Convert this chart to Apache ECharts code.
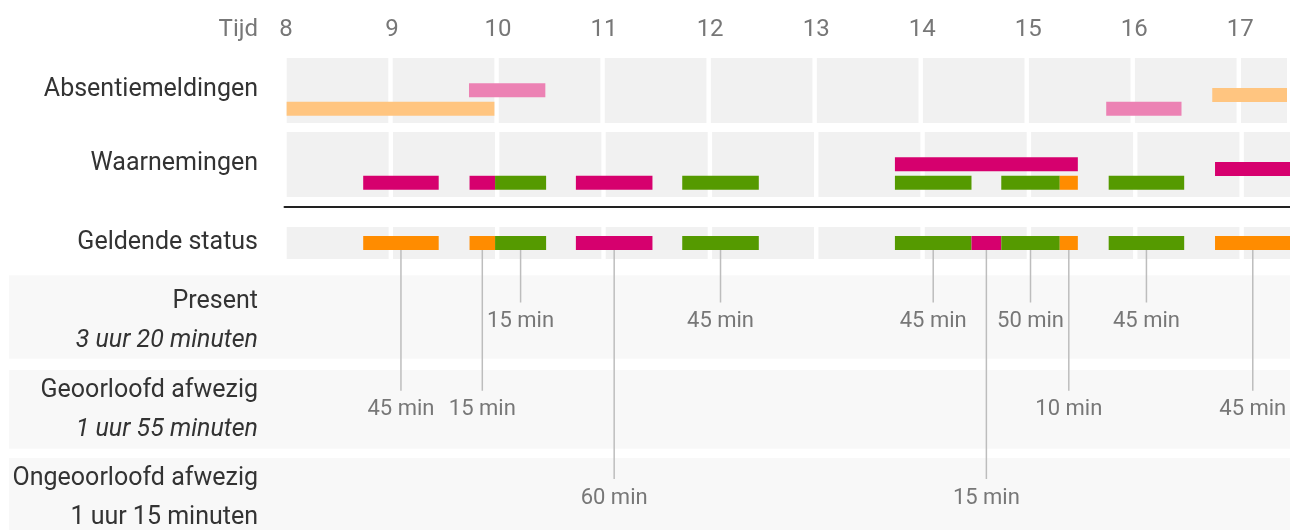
<!DOCTYPE html>
<html>
<head>
<meta charset="utf-8">
<script src="https://cdn.jsdelivr.net/npm/echarts@6/dist/echarts.min.js"></script>
<style>
  html, body { margin: 0; padding: 0; background: #fff; }
  #chart { width: 1290px; height: 530px; }
</style>
</head>
<body>
<div id="chart"></div>
<script>
// tick labels of the time axis (hours)
const hourTicks = [8, 9, 10, 11, 12, 13, 14, 15, 16, 17];

// summary rows
const statusNames = ["Present", "Geoorloofd afwezig", "Ongeoorloofd afwezig"];
const statusKeys = ["present", "geoorloofd", "ongeoorloofd"];
const statusTotals = ["3 uur 20 minuten", "1 uur 55 minuten", "1 uur 15 minuten"];

// [start hour, end hour, lane, kind]
const absentieMeldingen = [
  [8.02, 9.98, 0, "geoorloofd"],
  [9.74, 10.46, 1, "ongeoorloofd"],
  [15.75, 16.46, 0, "ongeoorloofd"],
  [16.75, 17.46, 0.75, "geoorloofd"]
];

const waarnemingen = [
  [8.74, 9.45, 0, "ongeoorloofd"],
  [9.74, 9.98, 0, "ongeoorloofd"],
  [9.98, 10.46, 0, "present"],
  [10.74, 11.46, 0, "ongeoorloofd"],
  [11.74, 12.46, 0, "present"],
  [13.74, 14.46, 0, "present"],
  [14.74, 15.29, 0, "present"],
  [15.29, 15.46, 0, "geoorloofd"],
  [15.75, 16.46, 0, "present"],
  [13.74, 15.46, 1, "ongeoorloofd"],
  [16.75, 17.46, 0.75, "ongeoorloofd"]
];

// [start hour, end hour, status, duration label]
const geldendeStatus = [
  [8.74, 9.45, "geoorloofd", "45 min"],
  [9.74, 9.98, "geoorloofd", "15 min"],
  [9.98, 10.46, "present", "15 min"],
  [10.74, 11.46, "ongeoorloofd", "60 min"],
  [11.74, 12.46, "present", "45 min"],
  [13.74, 14.46, "present", "45 min"],
  [14.46, 14.74, "ongeoorloofd", "15 min"],
  [14.74, 15.29, "present", "50 min"],
  [15.29, 15.46, "geoorloofd", "10 min"],
  [15.75, 16.46, "present", "45 min"],
  [16.75, 17.46, "geoorloofd", "45 min"]
];

const COLORS = { present: "#559a00", geoorloofd: "#ff8c00", ongeoorloofd: "#d6006e" };
const LIGHT = { geoorloofd: "#ffc580", ongeoorloofd: "#ec82b4" };

const FONT = "Roboto";
const PLOT_LEFT = 284.5;
const BAR_H = 14;
const STATUS_TOP = 227;
const STATUS_H = 32;
const LINE_TOP = STATUS_TOP + STATUS_H / 2 + BAR_H / 2;

const chart = echarts.init(document.getElementById("chart"));

function cellItem(params, api) {
  const cs = params.coordSys;
  const h = api.value(0);
  const a = api.coord([h, 0])[0] + 2.2;
  const b = api.coord([h + 1, 0])[0] - 2.2;
  const shape = echarts.graphic.clipRectByRect(
    { x: a, y: cs.y, width: b - a, height: cs.height },
    cs
  );
  return shape && { type: "rect", shape: shape, style: { fill: "#f1f1f1" } };
}

function barRenderer(rows, palette) {
  return function (params, api) {
    const p1 = api.coord([api.value(0), api.value(2)]);
    const p2 = api.coord([api.value(1), api.value(2)]);
    const shape = echarts.graphic.clipRectByRect(
      { x: p1[0], y: p1[1] - BAR_H / 2, width: p2[0] - p1[0], height: BAR_H },
      params.coordSys
    );
    const kind = rows[params.dataIndex][3];
    return shape && { type: "rect", shape: shape, style: { fill: palette[kind] } };
  };
}

function statusRenderer(params, api) {
  const p = api.coord([api.value(0), api.value(1)]);
  const s = geldendeStatus[params.dataIndex];
  return {
    type: "group",
    children: [
      {
        type: "line",
        shape: { x1: p[0], y1: LINE_TOP, x2: p[0], y2: p[1] - 19 },
        style: { stroke: "#bdbdbd", lineWidth: 1.5 }
      },
      {
        type: "text",
        x: p[0],
        y: p[1],
        style: {
          text: s[3],
          fill: "#777",
          fontSize: 22,
          fontFamily: FONT,
          align: "center",
          verticalAlign: "middle",
          textAlign: "center",
          textVerticalAlign: "middle"
        }
      }
    ]
  };
}

const hiddenX = {
  type: "value",
  min: 8,
  max: 17.455,
  interval: 1,
  axisLine: { show: false, onZero: false },
  axisTick: { show: false },
  axisLabel: { show: false },
  splitLine: { show: false }
};

const laneY = {
  type: "value",
  min: -0.77,
  max: 2.75,
  show: false,
  splitLine: { show: false }
};

const cellData = hourTicks.map(h => [h, 0]);

const labelStyle = (text, y, color, size) => ({
  type: "text",
  x: 258,
  y: y,
  style: {
    text: text,
    fill: color,
    fontSize: size,
    fontFamily: FONT,
    align: "right",
    verticalAlign: "middle",
    textAlign: "right",
    textVerticalAlign: "middle"
  }
});

const bandStyle = (y, h) => ({
  type: "rect",
  shape: { x: 9, y: y, width: 1281, height: h },
  style: { fill: "#f8f8f8" },
  z: -10
});

const rowFont = { fontSize: 25, fontFamily: FONT, color: "#333", lineHeight: 39, align: "right" };

chart.setOption({
  animation: false,
  backgroundColor: "#fff",
  graphic: [
    bandStyle(275.3, 83.4),
    bandStyle(370, 78.7),
    bandStyle(458, 80),
    labelStyle("Tijd", 30, "#777", 24),
    labelStyle("Absentiemeldingen", 90, "#333", 25),
    labelStyle("Waarnemingen", 164, "#333", 25),
    labelStyle("Geldende status", 243, "#333", 25)
  ],
  grid: [
    { left: PLOT_LEFT, right: 0, top: 58, height: 65 },
    { left: PLOT_LEFT, right: 0, top: 132, height: 65 },
    { left: PLOT_LEFT, right: 0, top: STATUS_TOP, height: STATUS_H },
    { left: PLOT_LEFT, right: 0, top: 321.5, height: 176.5 }
  ],
  xAxis: [
    Object.assign({}, hiddenX, {
      gridIndex: 0,
      position: "top",
      axisLabel: {
        show: true,
        fontSize: 24,
        fontFamily: FONT,
        color: "#777",
        margin: 28,
        verticalAlign: "middle",
        padding: [0, 0, 0, 3],
        formatter: v => (Number.isInteger(v) ? String(v) : "")
      }
    }),
    Object.assign({}, hiddenX, { gridIndex: 1 }),
    Object.assign({}, hiddenX, {
      gridIndex: 2,
      position: "top",
      offset: 20,
      axisLine: { show: true, onZero: false, lineStyle: { color: "#222", width: 2 } }
    }),
    Object.assign({}, hiddenX, { gridIndex: 3 })
  ],
  yAxis: [
    Object.assign({}, laneY, { gridIndex: 0 }),
    Object.assign({}, laneY, { gridIndex: 1 }),
    { type: "value", gridIndex: 2, min: -1, max: 1, show: false, splitLine: { show: false } },
    {
      type: "category",
      gridIndex: 3,
      inverse: true,
      boundaryGap: false,
      data: statusNames,
      axisLine: { show: false },
      axisTick: { show: false },
      splitLine: { show: false },
      axisLabel: {
        margin: 26.5,
        formatter: (value, index) =>
          "{name|" + value + "}\n{" + (index < 2 ? "subI" : "sub") + "|" + statusTotals[index] + "}",
        rich: {
          name: rowFont,
          subI: Object.assign({}, rowFont, { fontStyle: "italic" }),
          sub: rowFont
        }
      }
    }
  ],
  series: [
    { type: "custom", xAxisIndex: 0, yAxisIndex: 0, data: cellData, renderItem: cellItem, silent: true },
    { type: "custom", xAxisIndex: 1, yAxisIndex: 1, data: cellData, renderItem: cellItem, silent: true },
    { type: "custom", xAxisIndex: 2, yAxisIndex: 2, data: cellData, renderItem: cellItem, silent: true },
    {
      type: "custom",
      name: "Absentiemeldingen",
      xAxisIndex: 0,
      yAxisIndex: 0,
      encode: { x: [0, 1], y: 2 },
      data: absentieMeldingen.map(d => [d[0], d[1], d[2]]),
      renderItem: barRenderer(absentieMeldingen, LIGHT)
    },
    {
      type: "custom",
      name: "Waarnemingen",
      xAxisIndex: 1,
      yAxisIndex: 1,
      encode: { x: [0, 1], y: 2 },
      data: waarnemingen.map(d => [d[0], d[1], d[2]]),
      renderItem: barRenderer(waarnemingen, COLORS)
    },
    {
      type: "custom",
      name: "Geldende status",
      xAxisIndex: 2,
      yAxisIndex: 2,
      encode: { x: [0, 1], y: 2 },
      data: geldendeStatus.map(d => [d[0], d[1], 0]),
      renderItem: barRenderer(geldendeStatus.map(d => [d[0], d[1], 0, d[2]]), COLORS)
    },
    {
      type: "custom",
      name: "Duur",
      xAxisIndex: 3,
      yAxisIndex: 3,
      encode: { x: 0, y: 1 },
      data: geldendeStatus.map(d => [(d[0] + d[1]) / 2, statusKeys.indexOf(d[2])]),
      renderItem: statusRenderer
    }
  ]
});
</script>
</body>
</html>
